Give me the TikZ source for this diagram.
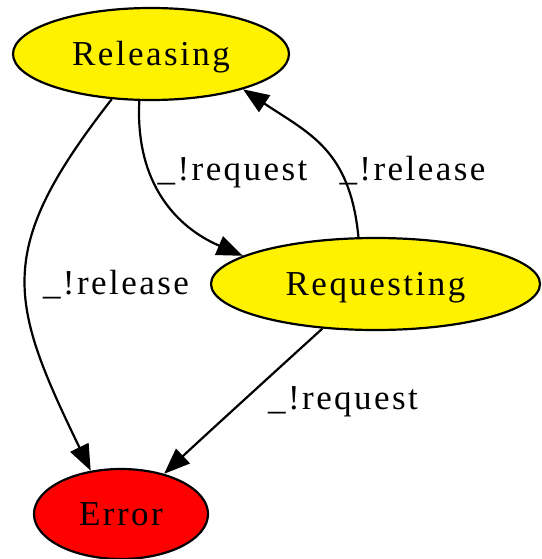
\documentclass[tikz,border=0pt]{standalone}
\usepackage{fontspec}
\setmainfont{Liberation Serif}[LetterSpace=7]
\usetikzlibrary{shapes.geometric,arrows.meta}

\begin{document}
\begin{tikzpicture}[x=1pt,y=-1pt,
  state/.style={ellipse,draw=black,line width=2.2pt,inner sep=0pt,
    text height=23pt,text depth=0pt,font=\fontsize{35}{42}\selectfont},
  lbl/.style={inner sep=0pt,anchor=base,font=\fontsize{35}{42}\selectfont},
  trans/.style={line width=2.2pt,-{Triangle[length=26pt,width=20pt]}}]
\useasboundingbox (0,0) rectangle (541,559);

% states
\node[state,fill=yellow,minimum width=276pt,minimum height=92pt] (rel) at (151,54) {Releasing};
\node[state,fill=yellow,minimum width=329pt,minimum height=92pt] (req) at (375.5,284) {Requesting};
\node[state,fill=red,minimum width=174pt,minimum height=90pt] (err) at (121,514) {Error};

% transitions
\draw[trans] (rel.229) .. controls (-6,250) and (8,300) .. (err.125);
\draw[trans] (rel.256) .. controls (135,185) and (178,228) .. (req.168);
\draw[trans] (req.110) .. controls (350,150) and (310,134) .. (rel.339);
\draw[trans] (req.220) .. controls (290,358) and (200,440) .. (err.43);

% transition labels
\node[lbl] (l1) at (232.5,180) {\_!request};
\node[lbl] (l2) at (412.5,180) {\_!release};
\node[lbl] (l3) at (116,294) {\_!release};
\node[lbl] (l4) at (343,409) {\_!request};
\end{tikzpicture}
\end{document}
